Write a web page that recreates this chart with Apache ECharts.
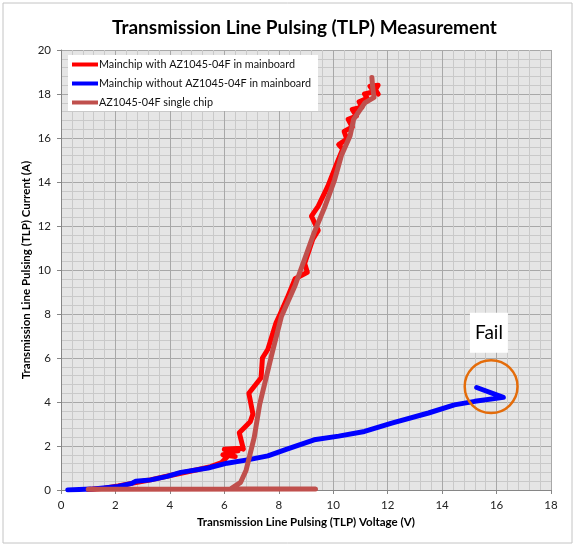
<!DOCTYPE html>
<html>
<head>
<meta charset="utf-8">
<script src="https://cdn.jsdelivr.net/npm/echarts@6/dist/echarts.min.js"></script>
<style>
html,body{margin:0;padding:0;background:#fff;}
#c{width:575px;height:547px;}
</style>
</head>
<body>
<div id="c"></div>
<script>
var titleText = 'Transmission Line Pulsing (TLP) Measurement';
var xAxisName = 'Transmission Line Pulsing (TLP) Voltage (V)';
var yAxisName = 'Transmission Line Pulsing (TLP) Current (A)';
var seriesNames = ['Mainchip with AZ1045-04F in mainboard', 'Mainchip without AZ1045-04F in mainboard', 'AZ1045-04F single chip'];
var seriesColors = ['#FF0000', '#0000FF', '#C0504D'];

var redData = [
  [1.0,0.02],[1.6,0.08],[2.1,0.18],[2.6,0.3],[3.2,0.44],[3.8,0.6],[4.4,0.76],[5.0,0.92],[5.5,1.06],
  [5.9,1.25],[6.1,1.5],[5.95,1.6],[6.4,1.52],[6.05,1.7],[6.5,1.78],[6.0,1.85],[6.6,1.9],[6.7,1.86],
  [6.55,2.6],[6.95,3.1],[7.05,3.45],[6.9,4.4],[7.35,5.1],[7.4,6.0],[7.6,6.4],[7.9,7.6],[8.05,8.0],
  [8.3,8.7],[8.6,9.6],[9.05,9.9],[8.95,10.3],[9.25,11.4],[9.45,11.8],[9.2,12.45],[9.45,12.9],
  [9.8,13.8],[10.15,14.9],[10.35,15.5],[10.2,15.7],[10.5,15.95],[10.4,16.3],[10.7,16.5],
  [10.55,16.85],[10.85,17.0],[10.7,17.3],[11.05,17.4],[10.95,17.65],[11.25,17.8],[11.15,18.0],
  [11.5,18.1],[11.35,18.35],[11.65,18.4],[11.55,18.2],[11.65,18.0]
];
var blueData = [
  [0.25,0.0],[1.1,0.04],[2.1,0.16],[2.6,0.3],[2.75,0.4],[3.3,0.46],[3.9,0.62],[4.4,0.8],[5.4,1.0],
  [6.1,1.22],[6.9,1.38],[7.6,1.55],[8.3,1.86],[9.3,2.28],[10.2,2.45],[11.15,2.66],[12.15,3.04],
  [13.5,3.5],[14.45,3.87],[15.2,4.03],[16.25,4.21],[15.27,4.66]
];
var brownData = [
  [1.0,0.03],[9.35,0.04],[6.25,0.06],[6.6,0.35],[6.8,0.9],[6.9,1.4],[7.1,2.4],[7.3,3.9],
  [7.75,6.2],[8.1,7.9],[8.6,9.3],[8.95,10.5],[9.3,11.7],[9.7,12.9],[10.05,14.1],[10.3,15.2],
  [10.62,16.1],[10.75,16.85],[11.16,17.6],[11.5,17.85],[11.45,18.3],[11.42,18.75]
];
var xTicks = {min: 0, max: 18, interval: 2};
var yTicks = {min: 0, max: 20, interval: 2};
var failLabel = 'Fail';
var failLabelPos = [15.72, 7.15];
var failCirclePos = [15.8, 4.7];

var FONT = 'Lato';
var chart = echarts.init(document.getElementById('c'), null, {renderer: 'canvas'});

function lineSeries(name, data, color) {
  return {
    name: name, type: 'line', data: data, showSymbol: false, symbol: 'none',
    lineStyle: {color: color, width: 5, join: 'round', cap: 'round'},
    itemStyle: {color: color},
    animation: false
  };
}

function axisCommon(t, name, nameGap) {
  return {
    type: 'value', min: t.min, max: t.max, interval: t.interval,
    name: name, nameLocation: 'middle', nameGap: nameGap, nameMoveOverlap: false,
    nameTextStyle: {fontFamily: FONT, fontWeight: 'bold', fontSize: 11.5, color: '#000'},
    axisLine: {show: true, lineStyle: {color: '#868686', width: 1}},
    axisTick: {show: true, length: 4, lineStyle: {color: '#868686'}},
    axisLabel: {fontFamily: FONT, fontSize: 11.5, color: '#222'},
    splitLine: {show: true, lineStyle: {color: '#A8A8A8', width: 1}},
    minorTick: {show: false, splitNumber: 5},
    minorSplitLine: {show: true, lineStyle: {color: '#C9C9C9', width: 1}}
  };
}

var xAx = axisCommon(xTicks, xAxisName, 26);
xAx.axisLabel.margin = 9;
var yAx = axisCommon(yTicks, yAxisName, 29);
yAx.axisLabel.margin = 10;

chart.setOption({
  animation: false,
  backgroundColor: '#ffffff',
  title: {
    text: titleText, left: 112, top: 13, padding: [5, 0, 5, 0],
    textStyle: {fontFamily: FONT, fontWeight: 'bold', fontSize: 19, color: '#000'}
  },
  legend: {
    orient: 'vertical', left: 68, top: 55, padding: [4, 7, 3, 4],
    backgroundColor: '#ffffff', itemWidth: 26, itemHeight: 4, itemGap: 8,
    icon: 'rect', data: seriesNames,
    textStyle: {fontFamily: FONT, fontSize: 10.8, color: '#111', padding: [0, 0, 0, -4]}
  },
  grid: {left: 61, right: 24, top: 50, bottom: 57, show: true, backgroundColor: '#E5E5E5', borderWidth: 0},
  xAxis: xAx,
  yAxis: yAx,
  series: [
    lineSeries(seriesNames[0], redData, seriesColors[0]),
    lineSeries(seriesNames[1], blueData, seriesColors[1]),
    lineSeries(seriesNames[2], brownData, seriesColors[2])
  ]
});

var pLabel = chart.convertToPixel({gridIndex: 0}, failLabelPos);
var pCircle = chart.convertToPixel({gridIndex: 0}, failCirclePos);
var rx = chart.convertToPixel({gridIndex: 0}, [failCirclePos[0] + 0.97, failCirclePos[1]])[0] - pCircle[0];

chart.setOption({
  graphic: [
    {type: 'rect', shape: {x: 3, y: 3, width: 569, height: 540},
     style: {fill: 'none', stroke: '#C4C4C4', lineWidth: 1}, z: 100, silent: true},
    {type: 'rect', shape: {x: pLabel[0] - 19, y: pLabel[1] - 20, width: 38, height: 40},
     style: {fill: '#ffffff'}, z: 100},
    {type: 'text', x: pLabel[0], y: pLabel[1],
     style: {text: failLabel, fill: '#000', font: '19px ' + FONT, textAlign: 'center', textVerticalAlign: 'middle'}, z: 101},
    {type: 'circle', shape: {cx: pCircle[0], cy: pCircle[1], r: rx},
     style: {fill: 'none', stroke: '#E46C0A', lineWidth: 2.5}, z: 100}
  ]
});
</script>
</body>
</html>
